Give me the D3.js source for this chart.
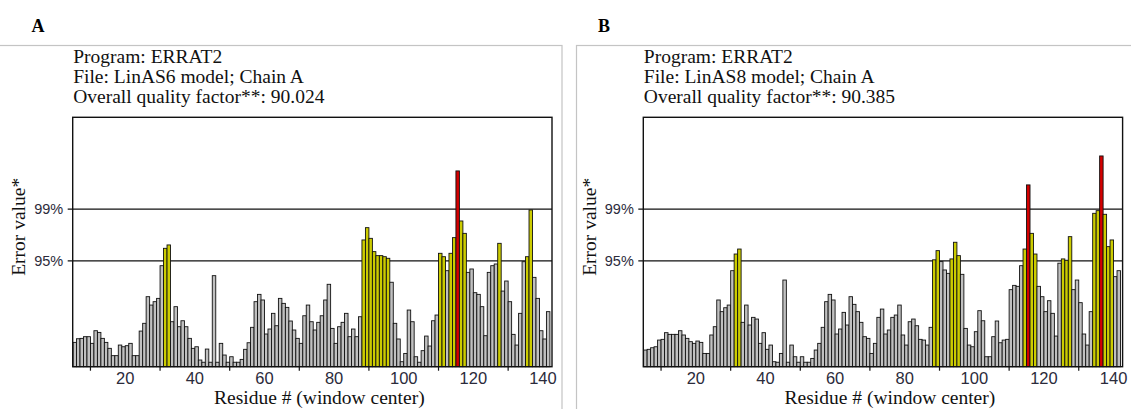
<!DOCTYPE html>
<html>
<head>
<meta charset="utf-8">
<script src="https://cdn.jsdelivr.net/npm/d3@7"></script>
<style>
  body { margin: 0; background: #fff; }
  svg { display: block; }
</style>
</head>
<body>
<div id="chart"></div>
<script>
// ERRAT2 error value for each window center, residue 5 up to 141
const firstResidue = 5;

const errorA = [
  2.23, 2.64, 2.68, 2.87, 2.87, 2.12, 3.54, 3.35, 2.68, 2.23,
  1.56, 0.74, 0.74, 1.93, 1.74, 1.86, 2.12, 0.74, 0.74, 3.50,
  4.37, 7.36, 6.42, 6.80, 7.17, 10.84, 12.79, 13.17, 4.55, 6.24,
  3.99, 4.66, 3.99, 2.68, 1.56, 1.74, 0.25, 0.0, 1.48, 0.0,
  9.72, 0.0, 2.12, 0.81, 0.0, 0.62, 0.0, 0.0, 0.32, 1.45,
  2.19, 3.92, 6.80, 7.62, 6.99, 3.17, 3.73, 5.49, 4.10, 7.17,
  6.61, 6.16, 4.63, 3.62, 2.68, 2.12, 5.22, 6.42, 4.55, 3.62,
  4.48, 5.22, 6.99, 8.75, 3.80, 2.12, 3.99, 4.48, 5.49, 2.87,
  3.73, 2.87, 5.11, 13.73, 15.11, 13.91, 12.42, 11.97, 11.97, 11.85,
  11.67, 8.98, 4.37, 2.61, 0.06, 0.99, 5.86, 4.55, 0.62, 0.0,
  1.30, 2.94, 1.82, 4.66, 5.30, 12.23, 11.85, 10.28, 12.23, 13.99,
  21.48, 15.86, 14.47, 10.09, 10.47, 7.81, 7.62, 6.24, 2.98, 10.09,
  10.84, 11.03, 13.35, 7.99, 9.12, 6.80, 3.13, 1.93, 5.49, 11.29,
  11.85, 17.10, 9.53, 7.17, 3.54, 2.61, 5.68
];

const errorB = [
  1.37, 1.45, 1.63, 1.74, 2.49, 2.57, 3.32, 3.13, 3.13, 3.13,
  3.54, 3.06, 2.68, 2.31, 2.12, 2.38, 2.23, 0.99, 0.99, 3.06,
  3.99, 6.99, 5.68, 6.12, 6.42, 10.28, 12.15, 12.71, 4.48, 6.42,
  4.18, 5.04, 4.85, 2.12, 3.32, 1.45, 1.93, 0.06, 0.0, 0.99,
  9.23, 0.0, 1.93, 0.62, 0.0, 0.62, 0.0, 0.0, 0.43, 1.37,
  2.12, 3.92, 6.80, 7.62, 6.99, 3.17, 3.73, 5.60, 4.18, 7.36,
  6.50, 5.68, 4.48, 2.87, 2.68, 0.99, 2.12, 5.04, 5.97, 3.17,
  3.62, 5.04, 5.30, 6.42, 3.06, 1.93, 4.55, 4.85, 4.10, 2.57,
  2.49, 1.93, 3.92, 11.50, 12.53, 11.30, 10.36, 9.98, 11.60, 13.47,
  11.97, 9.87, 3.80, 1.93, 1.74, 3.43, 5.79, 4.66, 0.62, 0.62,
  2.87, 4.63, 2.19, 2.49, 2.57, 8.15, 8.63, 8.52, 10.84, 12.71,
  19.91, 14.47, 12.15, 8.52, 7.36, 5.68, 6.91, 5.49, 2.94, 11.12,
  11.60, 11.45, 14.10, 8.15, 9.23, 6.69, 3.17, 1.93, 5.68, 16.72,
  17.02, 23.16, 16.61, 12.98, 13.73, 9.61, 10.28
];

const panelLetters = ["A", "B"];
const fileNames = ["LinAS6 model; Chain A", "LinAS8 model; Chain A"];
const qualityFactors = ["90.024", "90.385"];
const limitLabels = ["95%", "99%"];
const limitValues = [11.38, 17.19];
const xTickLabels = [20, 40, 60, 80, 100, 120, 140];
const xTickMarks = [10, 30, 50, 70, 90, 110, 130];

const serif = "'Liberation Serif', 'Times New Roman', serif";
const sans = "'Liberation Sans', Arial, sans-serif";

const svg = d3.select("#chart").append("svg")
    .attr("width", 1131)
    .attr("height", 409);

const plotW = 479.3, plotH = 249.4, plotTop = 117.3;

const x = d3.scaleLinear().domain([4.9, 142.6]).range([0, plotW]);
const y = d3.scaleLinear().domain([-0.5, 27.5]).range([plotH, 0]);

function barColor(v) {
  if (v > limitValues[1]) return "#d40000";
  if (v > limitValues[0]) return "#cccc00";
  return "#c0c0c0";
}

function drawPanel(i, values, left, frame, letterX) {
  // light frame round the panel
  svg.append("rect")
    .attr("x", frame[0]).attr("y", 45.5)
    .attr("width", frame[1]).attr("height", 400)
    .attr("fill", "none")
    .attr("stroke", "#c4c4c4")
    .attr("stroke-width", 1.2);

  svg.append("text")
    .attr("x", letterX).attr("y", 31.5)
    .attr("font-family", serif).attr("font-weight", "bold")
    .attr("font-size", 18)
    .text(panelLetters[i]);

  const header = ["Program: ERRAT2",
                  "File: " + fileNames[i],
                  "Overall quality factor**: " + qualityFactors[i]];
  svg.append("g")
    .selectAll("text")
    .data(header)
    .enter()
    .append("text")
      .attr("x", left + 0.5)
      .attr("y", (d, k) => 62.5 + k * 20.4)
      .attr("font-family", serif)
      .attr("font-size", 19.5)
      .attr("fill", "#111")
      .text(d => d);

  const g = svg.append("g")
    .attr("transform", "translate(" + left + "," + plotTop + ")");

  // limit lines, with their short ticks on the left
  g.selectAll(".limit")
    .data(limitValues)
    .enter()
    .append("line")
      .attr("class", "limit")
      .attr("x1", -5).attr("x2", plotW)
      .attr("y1", d => y(d)).attr("y2", d => y(d))
      .attr("stroke", "#111").attr("stroke-width", 1.2);

  g.selectAll(".limit-label")
    .data(limitValues)
    .enter()
    .append("text")
      .attr("class", "limit-label")
      .attr("x", -9.5)
      .attr("y", d => y(d))
      .attr("dy", "0.36em")
      .attr("text-anchor", "end")
      .attr("font-family", sans)
      .attr("font-size", 14.5)
      .attr("fill", "#2b2b3b")
      .text((d, k) => limitLabels[k]);

  // bars
  g.append("g")
    .selectAll("rect")
    .data(values)
    .enter()
    .append("rect")
      .attr("x", (d, k) => x(firstResidue + k))
      .attr("width", (d, k) => x(firstResidue + k + 1) - x(firstResidue + k))
      .attr("y", d => y(d))
      .attr("height", d => plotH - y(d))
      .attr("fill", d => barColor(d))
      .attr("stroke", "#111")
      .attr("stroke-width", 0.9);

  // plot frame
  g.append("rect")
    .attr("width", plotW).attr("height", plotH)
    .attr("fill", "none")
    .attr("stroke", "#111").attr("stroke-width", 1.4);

  // x axis: marks on odd tens, labels on even ones
  g.selectAll(".xmark")
    .data(xTickMarks)
    .enter()
    .append("line")
      .attr("class", "xmark")
      .attr("x1", d => x(d)).attr("x2", d => x(d))
      .attr("y1", plotH).attr("y2", plotH + 4)
      .attr("stroke", "#111").attr("stroke-width", 1.2);

  g.selectAll(".xlabel")
    .data(xTickLabels)
    .enter()
    .append("text")
      .attr("class", "xlabel")
      .attr("x", d => x(d))
      .attr("y", plotH + 17.5)
      .attr("text-anchor", "middle")
      .attr("font-family", sans)
      .attr("font-size", 16.5)
      .attr("fill", "#2b2b3b")
      .text(d => d);

  g.append("text")
    .attr("x", plotW / 2 + 7)
    .attr("y", plotH + 37.3)
    .attr("text-anchor", "middle")
    .attr("font-family", serif)
    .attr("font-size", 19.5)
    .attr("fill", "#111")
    .text("Residue # (window center)");

  g.append("text")
    .attr("transform", "translate(-47.5,109.5) rotate(-90)")
    .attr("text-anchor", "middle")
    .attr("font-family", serif)
    .attr("font-size", 19.5)
    .attr("fill", "#111")
    .text("Error value*");
}

drawPanel(0, errorA, 72.7, [-2, 564], 31.5);
drawPanel(1, errorB, 643.3, [576.5, 560], 598);
</script>
</body>
</html>
